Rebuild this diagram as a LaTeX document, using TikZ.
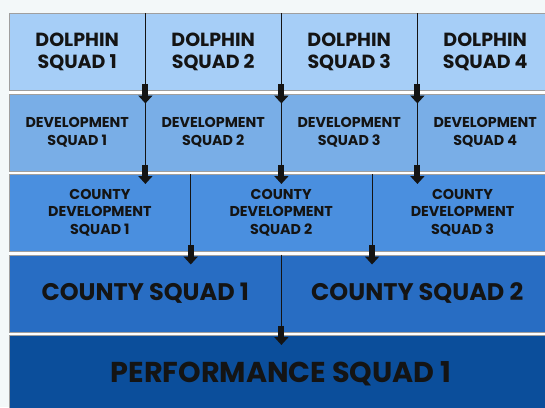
\documentclass[tikz,border=0pt]{standalone}
\usepackage{fontspec}
\setmainfont{Poppins}
\usetikzlibrary{arrows.meta,calc}

\definecolor{paper}{HTML}{F3F8F9}
\definecolor{rowone}{HTML}{A6CEF7}
\definecolor{rowtwo}{HTML}{79AEE7}
\definecolor{rowthree}{HTML}{4A8FDF}
\definecolor{rowfour}{HTML}{286DC3}
\definecolor{rowfive}{HTML}{0B4E9B}
\definecolor{ink}{HTML}{141414}

\begin{document}
\begin{tikzpicture}[x=1pt, y=-1pt,
    box/.style={draw=gray!75, inner sep=0pt, anchor=north west, align=center,
        text=ink, minimum height=77pt},
    dolphin/.style={box, fill=rowone, minimum width=136pt,
        font=\bfseries\fontsize{19}{22.5}\selectfont},
    devsquad/.style={box, fill=rowtwo, minimum width=136pt,
        font=\bfseries\fontsize{14.3}{17.5}\selectfont},
    countydev/.style={box, fill=rowthree, minimum width=181.33pt,
        font=\bfseries\fontsize{14.3}{17.5}\selectfont},
    county/.style={box, fill=rowfour, minimum width=272pt,
        font=\bfseries\fontsize{24}{28}\selectfont},
    perform/.style={box, fill=rowfive, minimum width=544pt,
        font=\bfseries\fontsize{28.7}{33}\selectfont},
    divider/.style={ink, line width=0.9pt},
    flow/.style={ink, line width=6pt, -{Triangle[width=14pt,length=8pt]}}]

% Page
\useasboundingbox (0,0) rectangle (545,407);
\clip (0,0) rectangle (545,407);
\fill[paper] (0,0) rectangle (545,407);
\fill[white] (9,13) rectangle (553,412);

% Rows of squads
\foreach \i in {1,...,4}
    \node[dolphin] (d\i) at ({9+136*(\i-1)},13) {DOLPHIN\\SQUAD \i};
\foreach \i in {1,...,4}
    \node[devsquad] (v\i) at ({9+136*(\i-1)},93.5) {DEVELOPMENT\\SQUAD \i};
\foreach \i in {1,2,3}
    \node[countydev] (c\i) at ({9+181.33*(\i-1)},174) {COUNTY\\DEVELOPMENT\\SQUAD \i};
\foreach \i in {1,2}
    \node[county] (s\i) at ({9+272*(\i-1)},254.5) {COUNTY SQUAD \i};
\node[perform] (p1) at (9,335) {PERFORMANCE SQUAD 1};

% Dividers
\foreach \n in {d1,d2,d3,v1,v2,v3,c1,c2,s1}
    \draw[divider] (\n.north east) -- (\n.south east);

% Arrows down to the next row
\foreach \i in {1,2,3} {
    \draw[flow] ([yshift=6pt]d\i.south east) -- ([yshift=-10pt]v\i.north east);
    \draw[flow] ([yshift=6pt]v\i.south east) -- ($(v\i.south east |- c1.north)+(0,10)$);
}
\foreach \i in {1,2}
    \draw[flow] ([yshift=6pt]c\i.south east) -- ($(c\i.south east |- s1.north)+(0,10)$);
\draw[flow] ([yshift=6pt]s1.south east) -- ($(s1.south east |- p1.north)+(0,10)$);
\end{tikzpicture}
\end{document}
